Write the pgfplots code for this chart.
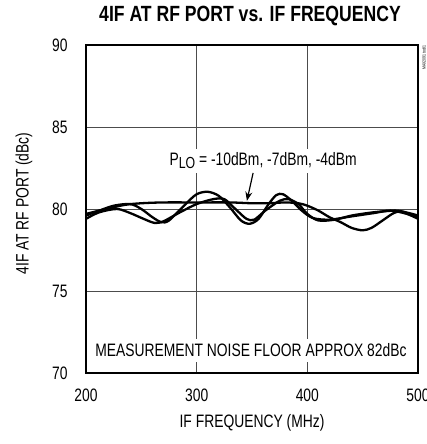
\documentclass[border=0pt]{standalone}
\usepackage{fontspec}
\setmainfont{Liberation Sans}[FakeStretch=0.77]
\newfontfamily\titlefont{Liberation Sans}[FakeStretch=0.80]
\usepackage{pgfplots}
\pgfplotsset{compat=1.18}
\usetikzlibrary{arrows.meta}
\begin{document}
\begin{tikzpicture}[x=1pt,y=1pt]
\useasboundingbox (0,0) rectangle (427,444);
\node at (250,428) {\titlefont\bfseries\fontsize{22}{24}\selectfont 4IF AT RF PORT vs. IF FREQUENCY};
\node[rotate=90] at (24,240.5) {\fontsize{18}{20}\selectfont 4IF AT RF PORT (dBc)};
\node at (252,21) {\fontsize{18}{20}\selectfont IF FREQUENCY (MHz)};
\node[rotate=90,anchor=east,inner sep=0pt] at (424,399) {\fontsize{4.5}{5}\selectfont MAX2091 toc81};
\begin{axis}[
  at={(86pt,71pt)}, anchor=south west,
  scale only axis, width=332pt, height=328pt,
  xmin=200, xmax=500, ymin=70, ymax=90,
  xtick={200,300,400,500}, ytick={70,75,80,85,90},
  major tick length=0pt,
  grid=major,
  major grid style={black!70, line width=0.8pt},
  axis line style={line width=2.4pt},
  /pgf/number format/assume math mode=true,
  /pgf/number format/1000 sep={},
  tick label style={font=\fontsize{18}{20}\selectfont},
  xticklabel style={yshift=-12pt},
  yticklabel style={xshift=-15pt},
  clip=true,
]
\addplot[black, line width=2.3pt, smooth] coordinates {
(200,79.6) (210,79.85) (225,80.2) (240,80.3) (250,80.0) (260,79.5) (268,79.2) (275,79.3) (290,80.3) (300,80.9) (310,81.05) (320,80.8) (330,80.1) (340,79.3) (348,79.1) (356,79.4) (365,80.3) (372,80.85) (378,80.9) (386,80.5) (395,79.9) (405,79.45) (420,79.35) (440,79.55) (460,79.75) (475,79.9) (490,79.7) (500,79.4)
};
\addplot[black, line width=2.3pt, smooth] coordinates {
(200,79.4) (212,79.8) (228,80.0) (240,79.75) (252,79.4) (262,79.15) (270,79.25) (285,79.8) (300,80.3) (315,80.6) (325,80.6) (335,80.0) (345,79.4) (352,79.35) (362,79.9) (375,80.5) (383,80.6) (392,80.3) (400,79.7) (410,79.3) (425,79.35) (440,79.6) (460,79.8) (480,79.9) (492,79.75) (500,79.6)
};
\addplot[black, line width=2.3pt, smooth] coordinates {
(200,79.7) (215,79.95) (235,80.25) (250,80.35) (270,80.4) (300,80.4) (330,80.4) (350,80.35) (365,80.35) (380,80.4) (392,80.35) (400,80.2) (410,79.9) (420,79.5) (430,79.2) (440,78.85) (450,78.7) (458,78.85) (468,79.3) (478,79.75) (485,79.85) (495,79.6) (500,79.5)
};
\node[fill=white, inner xsep=4pt, inner ysep=5pt] at (axis cs:349,71.37) {\fontsize{18}{20}\selectfont MEASUREMENT NOISE FLOOR APPROX 82dBc};
\node[fill=white, inner xsep=3pt, inner ysep=4pt] at (axis cs:360,82.94) {\fontsize{18}{20}\selectfont P\raisebox{-2.5pt}{\fontsize{16}{16}\selectfont LO} = -10dBm, -7dBm, -4dBm};
\draw[-{Stealth[length=9pt,width=7pt]}, line width=1.2pt] (axis cs:351,82.2) -- (axis cs:345.4,80.5);
\end{axis}
\end{tikzpicture}
\end{document}
